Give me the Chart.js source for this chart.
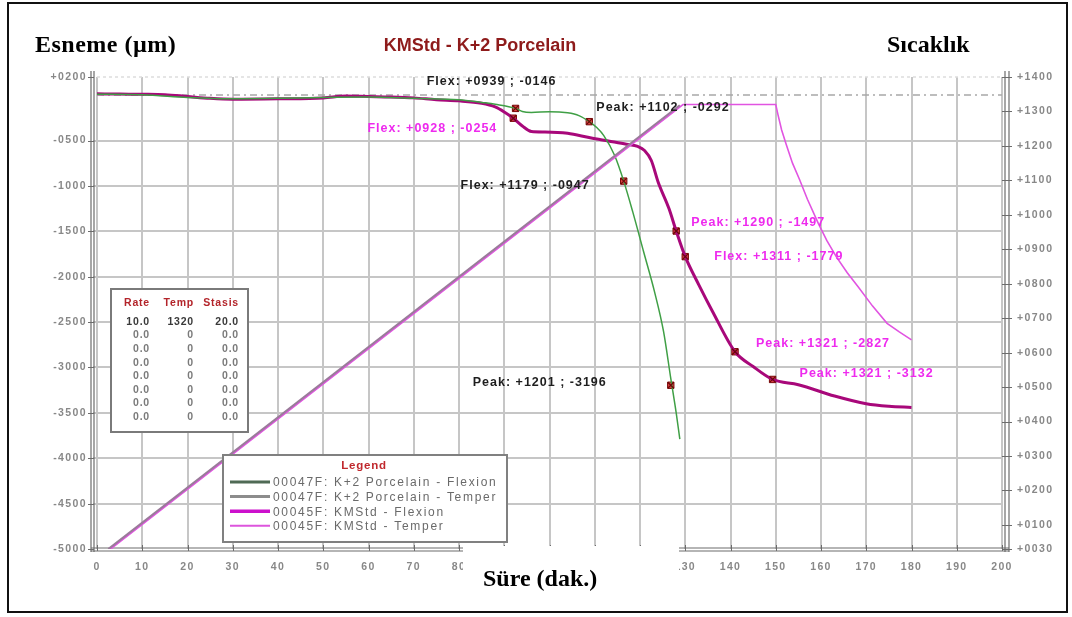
<!DOCTYPE html>
<html>
<head>
<meta charset="utf-8">
<script src="https://cdn.jsdelivr.net/npm/chart.js@4"></script>
<style>
  html, body { margin: 0; background: #fff; }
  #wrap { position: relative; width: 1072px; height: 617px; }
</style>
</head>
<body>
<div id="wrap"><canvas id="chart" width="1072" height="617"></canvas></div>
<script>
// K+2 Porcelain run (00047F)
const k2FlexTime = [0, 10, 20, 30, 40, 50, 60, 70, 80, 85, 88, 92.5, 94, 96, 100, 104, 106.5, 108.8, 110.5, 112, 114.4, 116.4, 118.4, 120.8, 123.2, 125.2, 126.8, 128, 128.8];
const k2Flex = [10, 5, -25, -40, -35, -25, -20, -35, -50, -80, -100, -146, -180, -190, -182, -195, -225, -292, -360, -445, -665, -947, -1286, -1725, -2164, -2603, -3120, -3500, -3790];
const k2TempTime = [2.5, 128.8];
const k2Temp = [30, 1318];

// KMStd run (00045F)
const kmFlexTime = [0, 5, 10, 15, 20, 25, 30, 40, 50, 55, 60, 65, 70, 75, 80, 85, 88, 90, 92, 94, 96, 99, 104, 109, 113, 117, 119.5, 121, 122.5, 124, 126.4, 128, 130, 133, 136, 141, 145, 149.3, 155, 163, 170, 175, 180];
const kmFlex = [15, 12, 10, 5, -15, -35, -45, -40, -30, -10, -15, -20, -30, -50, -63, -90, -130, -185, -254, -340, -400, -405, -420, -470, -505, -540, -565, -610, -720, -957, -1250, -1497, -1779, -2090, -2380, -2827, -2990, -3132, -3190, -3315, -3400, -3428, -3440];
const kmTempTime = [3, 129.5, 150, 150.5, 151.3, 152.3, 153.7, 155.3, 157, 159.4, 161.3, 163.4, 165.8, 168.2, 171.4, 174.6, 177.3, 180];
const kmTemp = [30, 1320, 1320, 1290, 1246, 1205, 1150, 1101, 1045, 975, 925, 878, 832, 791, 735, 685, 660, 637];

// marked points: kind, time, temperature, flexion
const k2MarkKind = ["Flex", "Peak", "Flex", "Peak"];
const k2MarkTime = [92.5, 108.8, 116.4, 126.8];
const k2MarkTemp = [939, 1102, 1179, 1201];
const k2MarkFlex = [-146, -292, -947, -3196];

const kmMarkKind = ["Flex", "Peak", "Flex", "Peak", "Peak"];
const kmMarkTime = [92, 128, 130, 141, 149.3];
const kmMarkTemp = [928, 1290, 1311, 1321, 1321];
const kmMarkFlex = [-254, -1497, -1779, -2827, -3132];

// axes
const xTicks = [0, 10, 20, 30, 40, 50, 60, 70, 80, 90, 100, 110, 120, 130, 140, 150, 160, 170, 180, 190, 200];
const leftTicks = [200, -500, -1000, -1500, -2000, -2500, -3000, -3500, -4000, -4500, -5000];
const rightTicks = [1400, 1300, 1200, 1100, 1000, 900, 800, 700, 600, 500, 400, 300, 200, 100, 30];

// program table
const tableHead = ["Rate", "Temp", "Stasis"];
const tableRows = [
  ["10.0", "1320", "20.0"],
  ["0.0", "0", "0.0"], ["0.0", "0", "0.0"], ["0.0", "0", "0.0"], ["0.0", "0", "0.0"],
  ["0.0", "0", "0.0"], ["0.0", "0", "0.0"], ["0.0", "0", "0.0"]
];

const seriesNames = [
  "00047F: K+2 Porcelain - Flexion",
  "00047F: K+2 Porcelain - Temper",
  "00045F: KMStd - Flexion",
  "00045F: KMStd - Temper"
];

// label placement relative to each marker (px), align
const k2LabelPos = [[-24, -27, "center"], [7, -14, "left"], [-34, 4, "right"], [-64, -3, "right"]];
const kmLabelPos = [[-16, 10, "right"], [15, -8, "left"], [29, 0, "left"], [21, -8, "left"], [27, -6, "left"]];

const pts = (xs, ys) => xs.map((x, i) => ({ x: x, y: ys[i] }));
const pad4 = n => String(Math.abs(n)).padStart(4, "0");
const signed = n => (n < 0 ? "-" : "+") + pad4(n);
const markText = (k, t, v) => k + ": +" + pad4(t) + " ; -" + pad4(v);

const GREEN = "#3f9f45";
const KM_FLEX = "#a8087a";
const KM_TEMP = "#e154e1";
const K2_TEMP = "#9a7a9a";
const LABEL_PINK = "#ee2aee";

const decor = {
  id: "decor",
  beforeDatasetsDraw(chart) {
    const { ctx, chartArea: a, scales } = chart;
    const x = scales.x, y = scales.y;
    ctx.save();
    // grid
    ctx.strokeStyle = "#c6c6c6";
    ctx.lineWidth = 2;
    xTicks.forEach(t => {
      const px = Math.round(x.getPixelForValue(t));
      ctx.beginPath(); ctx.moveTo(px, a.top); ctx.lineTo(px, a.bottom); ctx.stroke();
    });
    leftTicks.slice(1, -1).forEach(v => {
      const py = Math.round(y.getPixelForValue(v));
      ctx.beginPath(); ctx.moveTo(a.left - 4, py); ctx.lineTo(a.right, py); ctx.stroke();
    });
    // zero line dash-dot
    ctx.strokeStyle = "#a8a8a8";
    ctx.lineWidth = 1.5;
    ctx.setLineDash([7, 4, 2, 4]);
    const z = Math.round(y.getPixelForValue(0));
    ctx.beginPath(); ctx.moveTo(a.left, z); ctx.lineTo(a.right, z); ctx.stroke();
    ctx.strokeStyle = "#dddddd";
    ctx.setLineDash([3, 3]);
    ctx.beginPath(); ctx.moveTo(a.left, a.top); ctx.lineTo(a.right, a.top); ctx.stroke();
    ctx.setLineDash([]);
    // axis frames (double lines)
    ctx.strokeStyle = "#6c6c6c";
    ctx.lineWidth = 1.2;
    [a.left - 6, a.left - 3].forEach(px => {
      ctx.beginPath(); ctx.moveTo(px, a.top - 6); ctx.lineTo(px, a.bottom + 3); ctx.stroke();
    });
    [a.right + 3, a.right + 7].forEach(px => {
      ctx.beginPath(); ctx.moveTo(px, a.top - 6); ctx.lineTo(px, a.bottom + 3); ctx.stroke();
    });
    [a.bottom - 1, a.bottom + 2].forEach(py => {
      ctx.beginPath(); ctx.moveTo(a.left - 6, py); ctx.lineTo(a.right + 7, py); ctx.stroke();
    });
    ctx.restore();
  },
  afterDatasetsDraw(chart) {
    const { ctx, chartArea: a, scales } = chart;
    const x = scales.x, y = scales.y, y2 = scales.y2;
    ctx.save();
    // crosses on the marker squares
    ctx.strokeStyle = "#6a0808";
    ctx.lineWidth = 1.2;
    chart.getDatasetMeta(4).data.forEach(p => {
      ctx.beginPath();
      ctx.moveTo(p.x - 3, p.y - 3); ctx.lineTo(p.x + 3, p.y + 3);
      ctx.moveTo(p.x + 3, p.y - 3); ctx.lineTo(p.x - 3, p.y + 3);
      ctx.stroke();
    });

    // tick labels
    ctx.letterSpacing = "1.4px";
    ctx.font = "bold 10.5px Arial";
    ctx.fillStyle = "#888888";
    ctx.textBaseline = "middle";
    ctx.textAlign = "right";
    leftTicks.forEach(v => ctx.fillText(signed(v), 87, y.getPixelForValue(v)));
    ctx.textAlign = "left";
    rightTicks.forEach(t => ctx.fillText(signed(t), a.right + 15, y2.getPixelForValue(t)));
    ctx.textAlign = "center";
    xTicks.forEach(t => ctx.fillText(String(t), x.getPixelForValue(t), a.bottom + 18));
    // small axis ticks
    ctx.strokeStyle = "#6c6c6c";
    ctx.lineWidth = 1;
    leftTicks.forEach(v => {
      const py = Math.round(y.getPixelForValue(v)) + 0.5;
      ctx.beginPath(); ctx.moveTo(a.left - 9, py); ctx.lineTo(a.left - 3, py); ctx.stroke();
    });
    rightTicks.forEach(t => {
      const py = Math.round(y2.getPixelForValue(t)) + 0.5;
      ctx.beginPath(); ctx.moveTo(a.right, py); ctx.lineTo(a.right + 10, py); ctx.stroke();
    });
    xTicks.forEach(t => {
      const px = Math.round(x.getPixelForValue(t)) + 0.5;
      ctx.beginPath(); ctx.moveTo(px, a.bottom - 4); ctx.lineTo(px, a.bottom + 2); ctx.stroke();
    });

    // marker labels
    ctx.font = "bold 12.5px Arial";
    ctx.letterSpacing = "1px";
    ctx.fillStyle = "#1e1e1e";
    k2MarkKind.forEach((k, i) => {
      const p = k2LabelPos[i];
      ctx.textAlign = p[2];
      ctx.fillText(markText(k, k2MarkTemp[i], k2MarkFlex[i]),
        x.getPixelForValue(k2MarkTime[i]) + p[0], y.getPixelForValue(k2MarkFlex[i]) + p[1]);
    });
    ctx.fillStyle = LABEL_PINK;
    kmMarkKind.forEach((k, i) => {
      const p = kmLabelPos[i];
      ctx.textAlign = p[2];
      ctx.fillText(markText(k, kmMarkTemp[i], kmMarkFlex[i]),
        x.getPixelForValue(kmMarkTime[i]) + p[0], y.getPixelForValue(kmMarkFlex[i]) + p[1]);
    });

    // program table
    ctx.fillStyle = "#fff";
    ctx.fillRect(111, 289, 137, 143);
    ctx.strokeStyle = "#7a7a7a";
    ctx.lineWidth = 2;
    ctx.strokeRect(111, 289, 137, 143);
    const colRight = [150, 194, 239];
    ctx.textAlign = "right";
    ctx.font = "bold 10.5px Arial";
    ctx.letterSpacing = "0.8px";
    ctx.fillStyle = "#b3242a";
    tableHead.forEach((h, i) => ctx.fillText(h, colRight[i], 303));
    tableRows.forEach((row, r) => {
      ctx.fillStyle = r === 0 ? "#3a3a3a" : "#7a7a7a";
      row.forEach((c, i) => ctx.fillText(c, colRight[i], 322 + r * 13.6));
    });

    // legend
    ctx.fillStyle = "#fff";
    ctx.fillRect(223, 455, 284, 87);
    ctx.strokeStyle = "#808080";
    ctx.lineWidth = 2;
    ctx.strokeRect(223, 455, 284, 87);
    ctx.textAlign = "center";
    ctx.font = "bold 11.5px Arial";
    ctx.fillStyle = "#c0282d";
    ctx.fillText("Legend", 364, 466);
    const legColors = ["#4f6a55", "#8c8c8c", "#cc10cc", "#dd55dd"];
    const legWidths = [3, 3, 3.5, 2];
    ctx.textAlign = "left";
    ctx.font = "12px Arial";
    ctx.letterSpacing = "1.7px";
    seriesNames.forEach((name, i) => {
      const py = 482 + i * 14.6;
      ctx.strokeStyle = legColors[i];
      ctx.lineWidth = legWidths[i];
      ctx.beginPath(); ctx.moveTo(230, py); ctx.lineTo(270, py); ctx.stroke();
      ctx.fillStyle = "#6a6a6a";
      ctx.fillText(name, 273, py + 1);
    });

    // x axis title on white patch
    ctx.fillStyle = "#fff";
    ctx.fillRect(463, 546, 216, 62);
    ctx.letterSpacing = "0px";
    ctx.textBaseline = "alphabetic";
    ctx.fillStyle = "#000";
    ctx.font = "bold 24px 'Liberation Serif'";
    ctx.textAlign = "left";
    ctx.fillText("Süre (dak.)", 483, 586);
    ctx.fillText("Sıcaklık", 887, 52);
    ctx.letterSpacing = "0.5px";
    ctx.fillText("Esneme (µm)", 35, 52);
    ctx.letterSpacing = "0px";
    ctx.font = "bold 18px Arial";
    ctx.fillStyle = "#8e1b1b";
    ctx.textAlign = "center";
    ctx.fillText("KMStd - K+2 Porcelain", 480, 51);

    // outer frame
    ctx.strokeStyle = "#111";
    ctx.lineWidth = 2;
    ctx.strokeRect(8, 3, 1059, 609);
    ctx.restore();
  }
};

const hiddenScale = {
  display: true,
  grid: { display: false },
  border: { display: false },
  ticks: { display: false }
};

new Chart(document.getElementById("chart").getContext("2d"), {
  type: "line",
  data: {
    datasets: [
      {
        label: seriesNames[1], data: pts(k2TempTime, k2Temp), yAxisID: "y2",
        borderColor: K2_TEMP, borderWidth: 2.2, pointRadius: 0, tension: 0
      },
      {
        label: seriesNames[3], data: pts(kmTempTime, kmTemp), yAxisID: "y2",
        borderColor: KM_TEMP, borderWidth: 1.6, pointRadius: 0, tension: 0
      },
      {
        label: seriesNames[0], data: pts(k2FlexTime, k2Flex), yAxisID: "y",
        borderColor: GREEN, borderWidth: 1.5, pointRadius: 0, cubicInterpolationMode: "monotone"
      },
      {
        label: seriesNames[2], data: pts(kmFlexTime, kmFlex), yAxisID: "y",
        borderColor: KM_FLEX, borderWidth: 3, pointRadius: 0, cubicInterpolationMode: "monotone"
      },
      {
        label: "marks", data: pts(k2MarkTime.concat(kmMarkTime), k2MarkFlex.concat(kmMarkFlex)),
        yAxisID: "y", showLine: false, pointStyle: "rect", pointRadius: 4.5,
        pointBackgroundColor: "#dd4040", pointBorderColor: "#7a0a0a", pointBorderWidth: 1
      }
    ]
  },
  options: {
    responsive: false,
    animation: false,
    events: [],
    layout: { padding: { top: 77, bottom: 0, left: 0, right: 0 } },
    plugins: { legend: { display: false }, tooltip: { enabled: false }, title: { display: false } },
    scales: {
      x: Object.assign({ type: "linear", min: 0, max: 200, afterFit: s => { s.height = 68; } }, hiddenScale),
      y: Object.assign({ position: "left", min: -5000, max: 200, afterFit: s => { s.width = 97; } }, hiddenScale),
      y2: Object.assign({ position: "right", min: 30, max: 1400, afterFit: s => { s.width = 70; } }, hiddenScale)
    }
  },
  plugins: [decor]
});
</script>
</body>
</html>
